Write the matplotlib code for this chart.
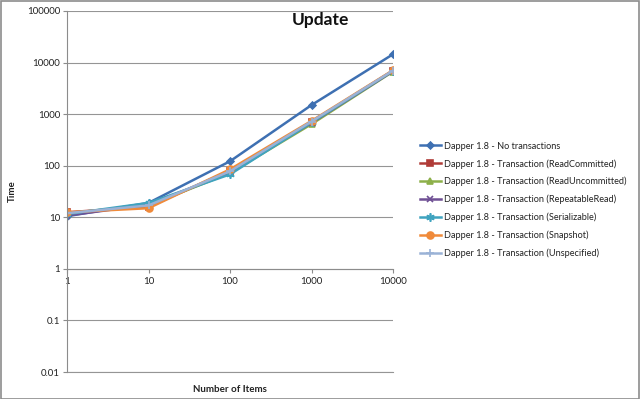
import matplotlib
matplotlib.use("Agg")
import matplotlib.pyplot as plt
from matplotlib.patches import Rectangle

plt.rcParams["font.family"] = ["Lato", "DejaVu Sans"]

items = [1, 10, 100, 1000, 10000]
series_names = [
    "Dapper 1.8 - No transactions",
    "Dapper 1.8 - Transaction (ReadCommitted)",
    "Dapper 1.8 - Transaction (ReadUncommitted)",
    "Dapper 1.8 - Transaction (RepeatableRead)",
    "Dapper 1.8 - Transaction (Serializable)",
    "Dapper 1.8 - Transaction (Snapshot)",
    "Dapper 1.8 - Transaction (Unspecified)",
]
no_transactions = [10.5, 19, 122, 1500, 14500]
read_committed = [12.5, 16, 80, 700, 7000]
read_uncommitted = [12, 17, 72, 640, 6700]
repeatable_read = [10.8, 17.5, 74, 680, 6800]
serializable = [11.5, 19, 68, 690, 6900]
snapshot = [12.5, 15, 85, 740, 7100]
unspecified = [12, 17, 78, 720, 7000]
values = [no_transactions, read_committed, read_uncommitted, repeatable_read,
          serializable, snapshot, unspecified]

colors = ["#3E70B2", "#B03C38", "#8DB04A", "#6E4F94", "#3FA3BF", "#F08A3A", "#9AB2D6"]
markers = ["D", "s", "^", "x", (6, 2, 0), "o", "+"]
msizes = [3.5, 4.5, 4.5, 5, 6, 5, 6]

fig = plt.figure(figsize=(6.4, 3.99), dpi=100)
fig.patches.append(Rectangle((0.001, 0.001), 0.997, 0.996, transform=fig.transFigure,
                             fill=False, edgecolor="#8c8c8c", linewidth=1.2))
ax = fig.add_axes([67/640, 1-372/399, (393-67)/640, (372-11)/399])

for name, vals, c, m, ms in zip(series_names, values, colors, markers, msizes):
    ax.plot(items, vals, color=c, marker=m, markersize=ms, linewidth=1.8,
            markeredgewidth=1.2, label=name)

ax.set_xscale("log")
ax.set_yscale("log")
ax.set_xlim(1, 10000)
ax.set_ylim(0.01, 100000)
ax.set_yticks([0.01, 0.1, 1, 10, 100, 1000, 10000, 100000])
ax.set_yticklabels(["0.01", "0.1", "1", "10", "100", "1000", "10000", "100000"])
ax.set_xticks(items)
ax.set_xticklabels([str(v) for v in items])
ax.minorticks_off()
ax.tick_params(axis="both", labelsize=7, length=3, width=0.8)
ax.grid(axis="y", color="#959595", linewidth=0.8)
ax.axhline(0.01, color="#959595", linewidth=0.8, clip_on=False, zorder=0)
ax.set_axisbelow(True)
for s in ["top", "right"]:
    ax.spines[s].set_visible(False)
ax.spines["left"].set_color("#8c8c8c")
ax.spines["bottom"].set_color("#8c8c8c")
ax.spines["bottom"].set_position(("data", 1))
ax.tick_params(axis="x", colors="#8c8c8c", labelcolor="#222222", pad=3)
ax.tick_params(axis="y", colors="#8c8c8c", labelcolor="#222222", pad=2)

ax.set_xlabel("Number of Items", fontsize=7, fontweight="bold", color="#222222")
ax.xaxis.set_label_coords(0.5, -0.035)
ax.set_ylabel("Time", fontsize=7, fontweight="bold", color="#222222")
ax.yaxis.set_label_coords(-0.155, 0.5)

fig.text(320/640, 1-20/399, "Update", fontsize=12.5, fontweight="bold",
         ha="center", va="center", color="#111111")

leg = fig.legend(loc="upper left", bbox_to_anchor=(416/640, 1-138/399),
                 frameon=False, fontsize=6.6, handlelength=2.3, labelspacing=0.91,
                 handletextpad=0.3, borderaxespad=0)
for t in leg.get_texts():
    t.set_color("#222222")

fig.savefig("out.png", dpi=100)
